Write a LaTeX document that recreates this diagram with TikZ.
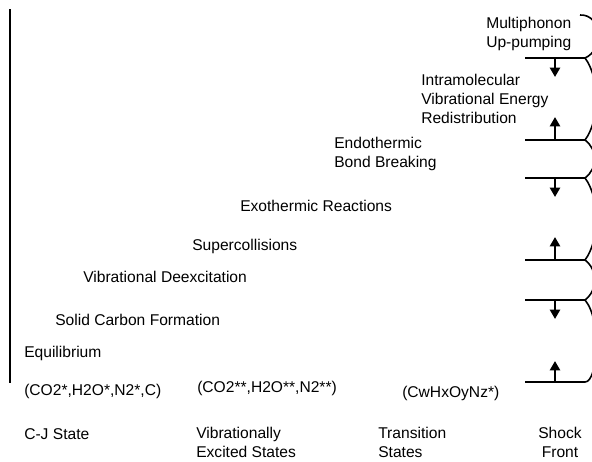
\documentclass[tikz,border=0pt]{standalone}
\usepackage{fontspec}
\setmainfont{Liberation Sans}
\usetikzlibrary{arrows.meta}

\begin{document}
\begin{tikzpicture}[x=0.75pt, y=-0.75pt, step text/.style={anchor=base west, inner sep=0pt, align=left, font=\fontsize{11.7}{14.25}\selectfont}, front line/.style={line width=2pt}, front arc/.style={line width=1.2pt}, jump/.style={line width=2pt, -{Triangle[width=7.5pt,length=7pt]}}]

 \useasboundingbox (0,0) rectangle (592,461);

 % processes, top to bottom (multi-line nodes sit on their last baseline)
 \node[step text] (multi) at (486,47) {Multiphonon\\Up-pumping};
 \node[step text] (ivr) at (421,123) {Intramolecular\\Vibrational Energy\\Redistribution};
 \node[step text] (endo) at (334,167) {Endothermic\\Bond Breaking};
 \node[step text] (exo) at (240,211) {Exothermic Reactions};
 \node[step text] (super) at (192,250) {Supercollisions};
 \node[step text] (deexc) at (83,282) {Vibrational Deexcitation};
 \node[step text] (carbon) at (55,325) {Solid Carbon Formation};
 \node[step text] (equil) at (24,357) {Equilibrium};

 % species
 \node[step text] (sp0) at (24,395) {(CO2*,H2O*,N2*,C)};
 \node[step text] (sp1) at (197,392) {(CO2**,H2O**,N2**)};
 \node[step text] (sp2) at (402,397) {(CwHxOyNz*)};

 % states
 \node[step text] (st0) at (24,439) {C-J State};
 \node[step text] (st1) at (196,457) {Vibrationally\\Excited States};
 \node[step text] (st2) at (378,457) {Transition\\States};
 \node[step text, anchor=base, align=center] (st3) at (560,457) {Shock\\Front};

 % left axis
 \draw[line width=1.8pt] (10,9) -- (10,383);

 % shock front
 \coordinate (s1) at (525,58);  \coordinate (c1) at (585,58);
 \coordinate (s2) at (525,140); \coordinate (c2) at (585,140);
 \coordinate (s3) at (525,178); \coordinate (c3) at (585,178);
 \coordinate (s4) at (525,260); \coordinate (c4) at (585,260);
 \coordinate (s5) at (525,300); \coordinate (c5) at (585,300);
 \coordinate (s6) at (525,382); \coordinate (c6) at (585,382);
 \coordinate (b1) at (555,58);  \coordinate (e1) at (555,77);
 \coordinate (b2) at (555,140); \coordinate (e2) at (555,117);
 \coordinate (b3) at (555,178); \coordinate (e3) at (555,197);
 \coordinate (b4) at (555,260); \coordinate (e4) at (555,237);
 \coordinate (b5) at (555,300); \coordinate (e5) at (555,319);
 \coordinate (b6) at (555,382); \coordinate (e6) at (555,361);

 \begin{scope}
  \clip (0,0) rectangle (592,461);
  \draw[front arc] (580,15) .. controls (602,14) and (604,50) .. (c1)
   .. controls (600,78) and (600,120) .. (c2)
   .. controls (598,150) and (598,168) .. (c3)
   .. controls (600,198) and (600,240) .. (c4)
   .. controls (598,270) and (598,290) .. (c5)
   .. controls (602,320) and (598,382) .. (c6);
 \end{scope}

 \path[]
 (s1) [front line] edge (c1)
 (s2) [front line] edge (c2)
 (s3) [front line] edge (c3)
 (s4) [front line] edge (c4)
 (s5) [front line] edge (c5)
 (s6) [front line] edge (c6);
 \path[]
 (b1) [jump] edge (e1)
 (b2) [jump] edge (e2)
 (b3) [jump] edge (e3)
 (b4) [jump] edge (e4)
 (b5) [jump] edge (e5)
 (b6) [jump] edge (e6);
\end{tikzpicture}
\end{document}
